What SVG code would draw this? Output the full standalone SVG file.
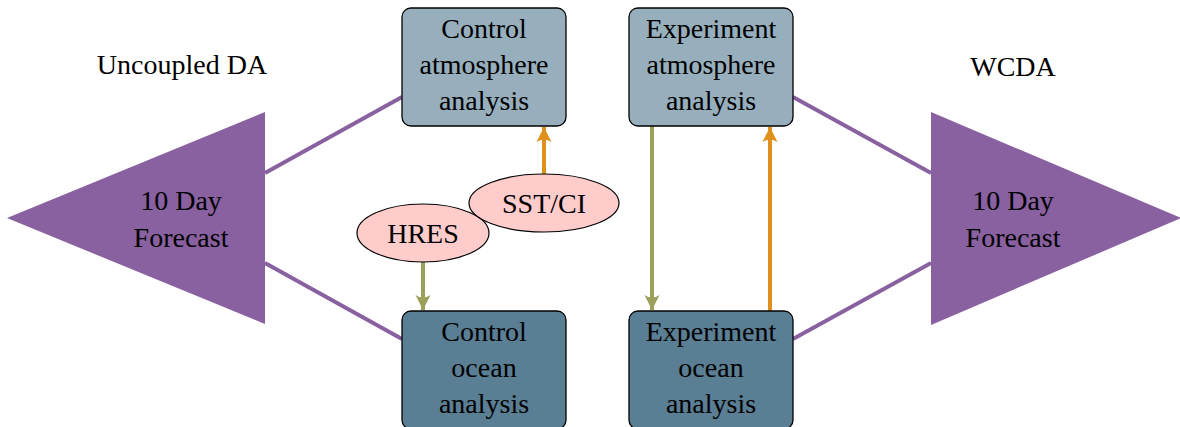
<svg xmlns="http://www.w3.org/2000/svg" width="1180" height="427" viewBox="0 0 1180 427">
<style>
text{font-family:"Liberation Serif","Times New Roman",serif;font-size:28px;fill:#000;text-anchor:middle}
.atm{fill:#97afbd;stroke:#000;stroke-width:1.3}
.ocn{fill:#5a7e94;stroke:#000;stroke-width:1.3}
.tri{fill:#8961a0}
.ell{fill:#ffcccc;stroke:#000;stroke-width:1.2}
.pl{stroke:#8961a0;stroke-width:4;fill:none}
.og{stroke:#e0901d;stroke-width:4;fill:none}
.gr{stroke:#9ca05a;stroke-width:4;fill:none}
</style>
<defs>
<marker id="ao" markerUnits="userSpaceOnUse" markerWidth="16" markerHeight="18" viewBox="-16 -8 16 16" refX="0" refY="0" orient="auto" overflow="visible">
<path d="M0,0 L-15,-7.5 Q-10,0 -15,7.5 Z" fill="#e0901d"/>
</marker>
<marker id="ag" markerUnits="userSpaceOnUse" markerWidth="16" markerHeight="18" viewBox="-16 -8 16 16" refX="0" refY="0" orient="auto" overflow="visible">
<path d="M0,0 L-15,-7.5 Q-10,0 -15,7.5 Z" fill="#9ca05a"/>
</marker>
</defs>
<g id="connectors">
<line class="pl" x1="265" y1="173" x2="402" y2="97"/>
<line class="pl" x1="265" y1="263" x2="402" y2="339"/>
<line class="pl" x1="931" y1="173" x2="793" y2="97"/>
<line class="pl" x1="931" y1="263" x2="793" y2="339"/>
<line class="og" x1="544" y1="175" x2="544" y2="127" marker-end="url(#ao)"/>
<line class="gr" x1="423" y1="262" x2="423" y2="310" marker-end="url(#ag)"/>
<line class="gr" x1="652" y1="126" x2="652" y2="310" marker-end="url(#ag)"/>
<line class="og" x1="770" y1="311" x2="770" y2="127" marker-end="url(#ao)"/>
</g>
<g id="label-uncoupled"><text x="182" y="74">Uncoupled DA</text></g>
<g id="label-wcda"><text x="1013" y="76">WCDA</text></g>
<g id="forecast-left">
<polygon class="tri" points="7,218 265,112 265,324"/>
<text x="181" y="210">10 Day</text>
<text x="181" y="247">Forecast</text>
</g>
<g id="forecast-right">
<polygon class="tri" points="1181,218 931,112 931,325"/>
<text x="1013" y="210">10 Day</text>
<text x="1013" y="247">Forecast</text>
</g>
<g id="control-atm">
<rect class="atm" x="402" y="8" width="164" height="118" rx="9"/>
<text x="484" y="38">Control</text>
<text x="484" y="74">atmosphere</text>
<text x="484" y="110">analysis</text>
</g>
<g id="experiment-atm">
<rect class="atm" x="629" y="8" width="164" height="118" rx="9"/>
<text x="711" y="38">Experiment</text>
<text x="711" y="74">atmosphere</text>
<text x="711" y="110">analysis</text>
</g>
<g id="control-ocean">
<rect class="ocn" x="402" y="311" width="164" height="118" rx="9"/>
<text x="484" y="341">Control</text>
<text x="484" y="377">ocean</text>
<text x="484" y="413">analysis</text>
</g>
<g id="experiment-ocean">
<rect class="ocn" x="629" y="311" width="164" height="118" rx="9"/>
<text x="711" y="341">Experiment</text>
<text x="711" y="377">ocean</text>
<text x="711" y="413">analysis</text>
</g>
<g id="hres">
<ellipse class="ell" cx="423" cy="233" rx="66" ry="29"/>
<text x="423" y="243">HRES</text>
</g>
<g id="sstci">
<ellipse class="ell" cx="544" cy="203" rx="75" ry="29"/>
<text x="544" y="213">SST/CI</text>
</g>
</svg>
